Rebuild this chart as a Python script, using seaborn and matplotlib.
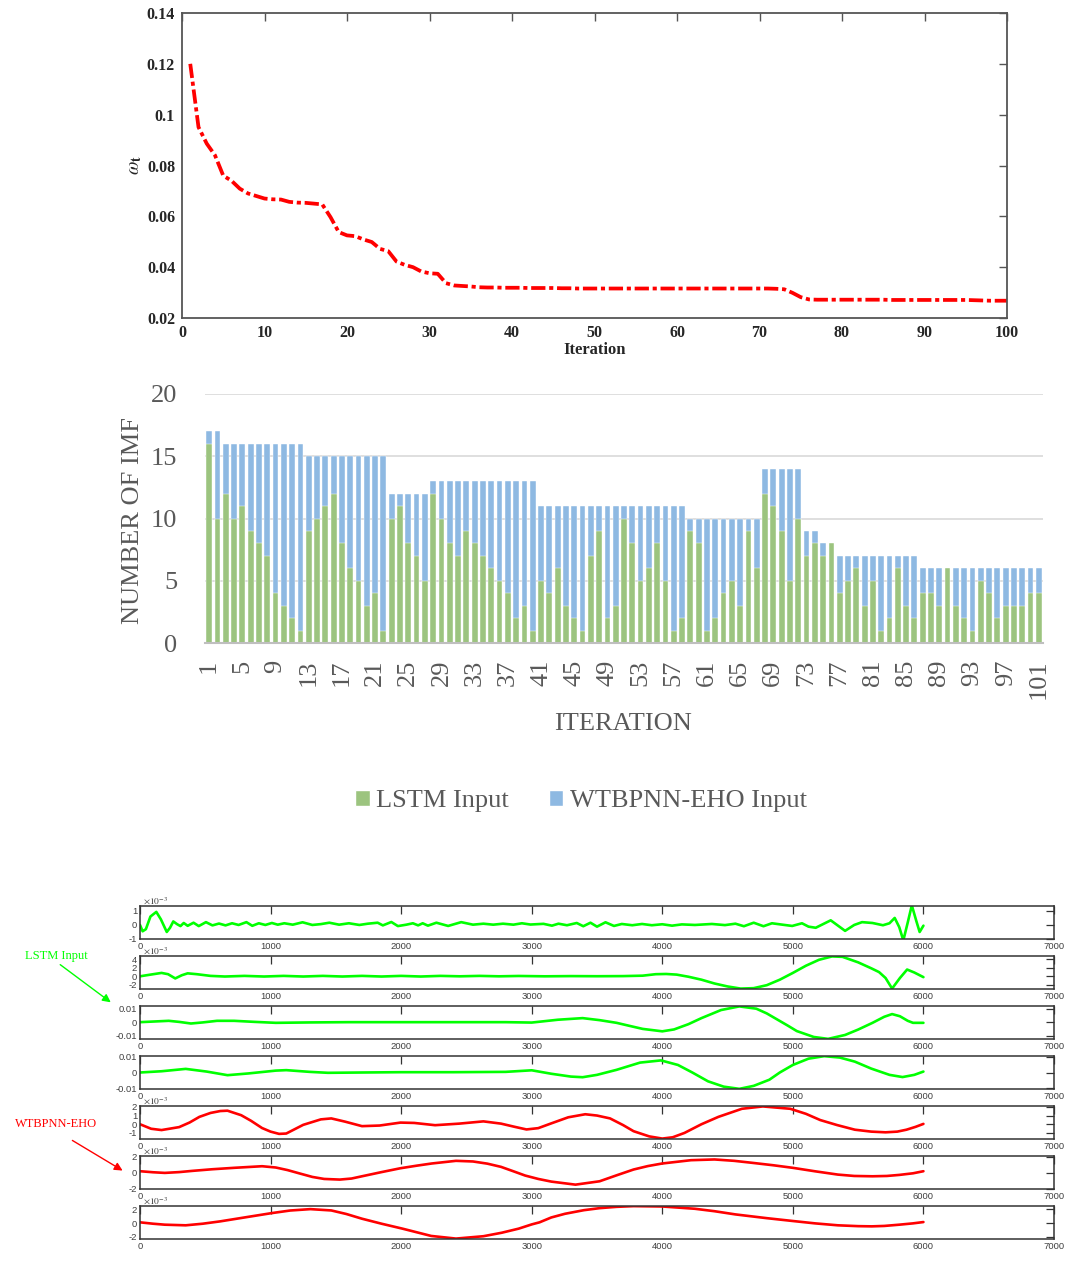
import numpy as np
import pandas as pd
import matplotlib
matplotlib.use("Agg")
import matplotlib.pyplot as plt
from matplotlib.ticker import FuncFormatter, MultipleLocator, FixedLocator
from matplotlib.patches import Patch
import seaborn as sns

# ---------------- data ----------------
# convergence of omega_t over the optimisation iterations
iterations = list(range(1, 101))
omega = [0.1200, 0.0951, 0.0886, 0.0840, 0.0760, 0.0740, 0.0709, 0.0690, 0.0680, 0.0670,
         0.0667, 0.0666, 0.0657, 0.0654, 0.0653, 0.0650, 0.0647, 0.0597, 0.0538, 0.0525,
         0.0522, 0.0509, 0.0499, 0.0472, 0.0463, 0.0422, 0.0409, 0.0400, 0.0383, 0.0376,
         0.0374, 0.0337, 0.0328, 0.0326, 0.0324, 0.0321, 0.0320, 0.0320, 0.0319, 0.0319,
         0.0319, 0.0318, 0.0318, 0.0318, 0.0318, 0.0317, 0.0317, 0.0316, 0.0316, 0.0316,
         0.0316, 0.0316, 0.0316, 0.0316, 0.0316, 0.0316, 0.0316, 0.0316, 0.0316, 0.0316,
         0.0316, 0.0316, 0.0316, 0.0316, 0.0316, 0.0316, 0.0316, 0.0316, 0.0316, 0.0316,
         0.0316, 0.0315, 0.0313, 0.0299, 0.0282, 0.0273, 0.0272, 0.0272, 0.0272, 0.0272,
         0.0272, 0.0272, 0.0272, 0.0272, 0.0272, 0.0271, 0.0271, 0.0271, 0.0271, 0.0271,
         0.0271, 0.0271, 0.0271, 0.0271, 0.0271, 0.0270, 0.0269, 0.0268, 0.0268, 0.0268]

# number of IMFs routed to each model per iteration
imf_iteration = list(range(1, 102))
lstm_input = [16, 10, 12, 10, 11, 9, 8, 7, 4, 3, 2, 1,
              9, 10, 11, 12, 8, 6, 5, 3, 4, 1,
              10, 11, 8, 7, 5,
              12, 10, 8, 7, 9, 8, 7, 6, 5, 4, 2, 3, 1,
              5, 4, 6, 3, 2, 1, 7, 9, 2, 3, 10, 8, 5, 6, 8, 5, 1, 2,
              9, 8, 1, 2, 4, 5, 3, 9, 6,
              12, 11, 9, 5, 10,
              7, 8, 7, 8,
              4, 5, 6, 3, 5, 1, 2, 6, 3, 2,
              4, 4, 3, 6, 3, 2, 1, 5, 4, 2, 3, 3, 3, 4, 4]
wtbpnn_input = [1, 7, 4, 6, 5, 7, 8, 9, 12, 13, 14, 15,
                6, 5, 4, 3, 7, 9, 10, 12, 11, 14,
                2, 1, 4, 5, 7,
                1, 3, 5, 6, 4, 5, 6, 7, 8, 9, 11, 10, 12,
                6, 7, 5, 8, 9, 10, 4, 2, 9, 8, 1, 3, 6, 5, 3, 6, 10, 9,
                1, 2, 9, 8, 6, 5, 7, 1, 4,
                2, 3, 5, 9, 4,
                2, 1, 1, 0,
                3, 2, 1, 4, 2, 6, 5, 1, 4, 5,
                2, 2, 3, 0, 3, 4, 5, 1, 2, 4, 3, 3, 3, 2, 2]

# decomposed IMF components (time index, amplitude)
imf1_t = [0, 20, 45, 80, 125, 160, 205, 230, 255, 285, 310, 335, 365, 410, 450, 505, 555, 605,
          655, 705, 755, 815, 860, 910, 960, 1010, 1055, 1105, 1170, 1245, 1320, 1385, 1450,
          1525, 1600, 1680, 1745, 1820, 1860, 1925, 1975, 2040, 2090, 2130, 2165, 2205, 2270,
          2360, 2460, 2550, 2630, 2705, 2780, 2860, 2925, 2990, 3090, 3155, 3205, 3270, 3345,
          3395, 3450, 3500, 3565, 3630, 3690, 3770, 3845, 3920, 4000, 4075, 4150, 4250, 4380,
          4480, 4560, 4625, 4700, 4775, 4840, 4920, 4995, 5070, 5120, 5175, 5290, 5400, 5470,
          5530, 5610, 5690, 5740, 5780, 5815, 5846, 5880, 5911, 5945, 5971, 6000]
imf1_v = [0.0, -0.45, -0.3, 0.6, 0.93, 0.4, -0.5, -0.2, 0.25, 0.05, -0.08, 0.14, -0.06, 0.16,
          -0.08, 0.2, -0.03, 0.1, -0.03, 0.12, 0.0, 0.2, -0.06, 0.12, 0.0, 0.14, 0.02, 0.12,
          0.02, 0.19, 0.0, 0.06, 0.16, 0.02, 0.12, 0.0, 0.09, 0.16, -0.03, 0.21, -0.08, 0.02,
          0.12, -0.03, 0.12, -0.05, 0.16, -0.07, 0.2, 0.02, 0.09, 0.02, 0.09, 0.02, 0.12, 0.03,
          0.08, -0.05, 0.09, -0.02, 0.14, -0.09, 0.16, -0.12, 0.19, -0.07, 0.07, -0.02, 0.07,
          -0.02, 0.05, -0.05, 0.04, 0.0, 0.07, -0.01, 0.09, -0.09, 0.16, -0.09, 0.12, 0.02,
          -0.07, 0.12, -0.12, -0.2, 0.33, -0.42, 0.0, 0.2, 0.14, -0.02, 0.12, 0.5, -0.16, -1.1,
          0.18, 1.4, 0.3, -0.5, -0.05]

imf2_t = [0, 60, 165, 215, 270, 320, 365, 435, 540, 650, 800, 950, 1100, 1250, 1400, 1550,
          1700, 1850, 2000, 2150, 2300, 2450, 2600, 2750, 2900, 3100, 3300, 3500, 3700, 3850,
          3950, 4030, 4110, 4200, 4300, 4400, 4500, 4600, 4700, 4800, 4900, 5000, 5100, 5200,
          5300, 5380, 5500, 5600, 5660, 5710, 5760, 5820, 5875, 5930, 6000]
imf2_v = [0.0, 0.3, 0.8, 0.5, -0.5, 0.25, 0.7, 0.5, 0.1, -0.05, 0.1, -0.05, 0.1, -0.05, 0.1,
          -0.05, 0.1, -0.05, 0.1, -0.05, 0.1, 0.0, 0.1, 0.0, 0.08, 0.0, 0.05, 0.02, 0.05, 0.15,
          0.5, 0.55, 0.4, -0.1, -0.8, -1.7, -2.4, -2.9, -2.8, -2.1, -0.8, 0.8, 2.5, 3.9, 4.7,
          4.6, 3.3, 1.9, 1.0, -0.4, -2.9, -0.4, 1.6, 0.9, -0.2]

imf3_t = [0, 110, 220, 300, 390, 480, 590, 720, 880, 1040, 1300, 1600, 2000, 2400, 2800,
          3000, 3200, 3390, 3520, 3650, 3760, 3850, 4000, 4090, 4200, 4300, 4450, 4590, 4720,
          4800, 4880, 4960, 5030, 5160, 5270, 5400, 5500, 5610, 5700, 5760, 5820, 5880, 5920,
          6000]
imf3_v = [0.0, 0.0005, 0.001, 0.0002, -0.001, -0.0002, 0.001, 0.001, 0.0002, -0.0005, -0.0002,
          0.0, 0.0, 0.0, 0.0, -0.0003, 0.0018, 0.003, 0.0015, -0.0005, -0.003, -0.005, -0.0068,
          -0.0054, -0.0015, 0.003, 0.009, 0.0117, 0.010, 0.0065, 0.002, -0.0025, -0.0066,
          -0.011, -0.0124, -0.0095, -0.0055, -0.0005, 0.004, 0.006, 0.0044, 0.001, -0.0005,
          -0.0005]

imf4_t = [0, 165, 350, 510, 670, 830, 1040, 1120, 1300, 1440, 1700, 2000, 2400, 2800, 3000,
          3150, 3300, 3390, 3500, 3650, 3830, 3990, 4120, 4230, 4350, 4470, 4590, 4700, 4820,
          4900, 5000, 5120, 5240, 5360, 5475, 5600, 5740, 5840, 5930, 6000]
imf4_v = [0.0, 0.0008, 0.0023, 0.0006, -0.0017, -0.0006, 0.0012, 0.0015, 0.0004, -0.0002, 0.0,
          0.0002, 0.0002, 0.0004, 0.0014, -0.0008, -0.0026, -0.003, -0.0015, 0.0017, 0.0063,
          0.0077, 0.0048, 0.0, -0.0056, -0.009, -0.0104, -0.0085, -0.0046, 0.0, 0.0048, 0.0088,
          0.0104, 0.0095, 0.0069, 0.0025, -0.0015, -0.0029, -0.0015, 0.0006]

imf5_t = [0, 85, 165, 300, 380, 455, 540, 615, 670, 775, 850, 935, 1000, 1065, 1120, 1250,
          1385, 1465, 1570, 1700, 1835, 1995, 2100, 2260, 2445, 2630, 2765, 2870, 2960, 3050,
          3150, 3280, 3410, 3500, 3600, 3700, 3780, 3900, 4000, 4080, 4170, 4300, 4430, 4610,
          4770, 4980, 5100, 5210, 5340, 5475, 5600, 5710, 5800, 5870, 5940, 6000]
imf5_v = [0.0, -0.52, -0.67, -0.33, 0.2, 0.85, 1.3, 1.52, 1.56, 1.04, 0.4, -0.44, -0.85, -1.11,
          -1.07, -0.07, 0.56, 0.67, 0.3, -0.22, -0.15, 0.19, 0.15, -0.11, 0.07, 0.33, 0.07,
          -0.3, -0.6, -0.45, 0.1, 0.8, 1.15, 1.0, 0.67, -0.1, -0.8, -1.4, -1.65, -1.5, -1.0,
          0.0, 0.85, 1.78, 2.05, 1.78, 1.2, 0.48, -0.1, -0.63, -0.85, -0.93, -0.85, -0.63,
          -0.3, 0.04]

imf6_t = [0, 100, 190, 300, 400, 550, 720, 935, 1040, 1130, 1225, 1320, 1410, 1530, 1620,
          1700, 1850, 1995, 2120, 2235, 2420, 2550, 2660, 2765, 2860, 2950, 3050, 3150, 3335,
          3520, 3650, 3780, 3890, 4000, 4220, 4400, 4550, 4690, 4850, 5000, 5170, 5345, 5470,
          5610, 5720, 5815, 5920, 6000]
imf6_v = [0.21, 0.08, 0.0, 0.1, 0.25, 0.45, 0.63, 0.83, 0.67, 0.35, -0.08, -0.5, -0.75, -0.83,
          -0.7, -0.42, 0.1, 0.58, 0.9, 1.17, 1.5, 1.42, 1.15, 0.75, 0.2, -0.33, -0.75, -1.08,
          -1.46, -1.04, -0.3, 0.42, 0.85, 1.17, 1.58, 1.67, 1.5, 1.25, 0.95, 0.63, 0.2, -0.21,
          -0.38, -0.42, -0.38, -0.25, -0.05, 0.21]

imf7_t = [0, 100, 190, 350, 480, 615, 800, 1010, 1150, 1305, 1465, 1580, 1700, 1850, 2010,
          2230, 2420, 2630, 2770, 2900, 3000, 3060, 3150, 3255, 3400, 3520, 3650, 3780, 4000,
          4250, 4400, 4560, 4800, 5000, 5170, 5345, 5500, 5605, 5700, 5815, 5920, 6000]
imf7_v = [0.1, -0.1, -0.24, -0.33, -0.1, 0.24, 0.8, 1.43, 1.8, 2.0, 1.81, 1.3, 0.62, -0.1,
          -0.81, -1.86, -2.24, -1.9, -1.4, -0.81, -0.2, 0.1, 0.8, 1.33, 1.85, 2.14, 2.33, 2.43,
          2.38, 2.05, 1.7, 1.24, 0.7, 0.29, -0.05, -0.33, -0.45, -0.48, -0.42, -0.24, -0.05,
          0.14]

# ---------------- style ----------------
sns.set_theme(style="white")
plt.rcParams["font.family"] = ["Liberation Serif", "DejaVu Serif"]
plt.rcParams["axes.unicode_minus"] = False
plt.rcParams["mathtext.fontset"] = "stix"

W, H = 1067, 1276
fig = plt.figure(figsize=(W / 100, H / 100), dpi=100)
fig.patch.set_facecolor("white")


def rect(left, top, right, bottom):
    """pixel box (from top-left) -> figure-fraction rectangle"""
    return [left / W, 1 - bottom / H, (right - left) / W, (bottom - top) / H]


def g_fmt(v, _):
    return f"{v:g}"


def milli_fmt(v, _):
    return f"{round(v / 1e-3, 6):g}"


# ---------------- omega_t convergence ----------------
ax1 = fig.add_axes(rect(182, 13, 1007, 318))
df_w = pd.DataFrame({"Iteration": iterations, "omega": omega})
sns.lineplot(data=df_w, x="Iteration", y="omega", ax=ax1, color="#FF0000",
             linewidth=2.7, linestyle=(0, (3.8, 1.0, 1.1, 1.0)))
ax1.set_xlim(0, 100)
ax1.set_ylim(0.02, 0.14)
ax1.xaxis.set_major_locator(MultipleLocator(10))
ax1.yaxis.set_major_locator(MultipleLocator(0.02))
ax1.yaxis.set_major_formatter(FuncFormatter(g_fmt))
ax1.tick_params(direction="in", top=True, right=True, length=6, width=1,
                color="#555555", labelcolor="#262626", labelsize=11.5, pad=5)
for lab in ax1.get_xticklabels() + ax1.get_yticklabels():
    lab.set_fontweight("bold")
for sp in ax1.spines.values():
    sp.set_color("#555555")
    sp.set_linewidth(1.3)
ax1.set_xlabel("Iteration", fontsize=12, fontweight="bold", color="#262626", labelpad=1)
ax1.set_ylabel(r"$\omega_{\mathbf{t}}$", fontsize=14, color="#262626", labelpad=2)

# ---------------- stacked IMF counts ----------------
GREEN = "#9CC47F"
BLUE = "#8EB9E2"
GREY = "#595959"
FS = 19
ax2 = fig.add_axes(rect(205, 394, 1043, 643))
df_b = pd.DataFrame({"iteration": imf_iteration, "lstm": lstm_input, "wtbpnn": wtbpnn_input})
df_b["total"] = df_b["lstm"] + df_b["wtbpnn"]
sns.barplot(data=df_b, x="iteration", y="total", color=BLUE, saturation=1, width=0.7,
            edgecolor="white", linewidth=0.3, ax=ax2)
sns.barplot(data=df_b, x="iteration", y="lstm", color=GREEN, saturation=1, width=0.7,
            edgecolor="white", linewidth=0.3, ax=ax2)
ax2.set_xlim(-0.5, len(imf_iteration) - 0.5)
ax2.set_ylim(0, 20)
ax2.yaxis.set_major_locator(MultipleLocator(5))
tick_pos = list(range(0, len(imf_iteration), 4))
ax2.xaxis.set_major_locator(FixedLocator(tick_pos))
ax2.set_xticklabels([str(imf_iteration[i]) for i in tick_pos], rotation=90)
ax2.set_axisbelow(True)
ax2.yaxis.grid(True, color="#D9D9D9", linewidth=1.2)
ax2.xaxis.grid(False)
for side in ("left", "right", "top"):
    ax2.spines[side].set_visible(False)
ax2.spines["bottom"].set_color("#BFBFBF")
ax2.spines["bottom"].set_linewidth(1.5)
ax2.tick_params(axis="both", length=0, labelsize=FS, labelcolor=GREY)
ax2.tick_params(axis="x", pad=12)
ax2.tick_params(axis="y", pad=20)
ax2.set_xlabel("ITERATION", fontsize=FS, color=GREY, va="center")
ax2.set_ylabel("NUMBER OF IMF", fontsize=FS, color=GREY, va="center")
ax2.xaxis.set_label_coords((623 - 205) / 838, (643 - 724) / 249)
ax2.yaxis.set_label_coords((133 - 205) / 838, (643 - 521) / 249)

fig.legend(handles=[Patch(facecolor=GREEN, label="LSTM Input"),
                    Patch(facecolor=BLUE, label="WTBPNN-EHO Input")],
           loc="center", bbox_to_anchor=(581 / W, 1 - 801 / H), ncol=2, frameon=False,
           fontsize=FS, labelcolor=GREY, handlelength=0.55, handleheight=0.55,
           handletextpad=0.25, columnspacing=1.5)

# ---------------- IMF component panels ----------------
LIME = "#00FF00"
RED = "#FF0000"
panels = [
    (imf1_t, imf1_v, 1e-3, LIME, (-1.0, 1.35), [-1, 0, 1]),
    (imf2_t, imf2_v, 1e-3, LIME, (-3.0, 4.8), [-2, 0, 2, 4]),
    (imf3_t, imf3_v, 1.0, LIME, (-0.0125, 0.012), [-0.01, 0, 0.01]),
    (imf4_t, imf4_v, 1.0, LIME, (-0.0105, 0.0105), [-0.01, 0, 0.01]),
    (imf5_t, imf5_v, 1e-3, RED, (-1.7, 2.1), [-1, 0, 1, 2]),
    (imf6_t, imf6_v, 1e-3, RED, (-2.0, 2.1), [-2, 0, 2]),
    (imf7_t, imf7_v, 1e-3, RED, (-2.3, 2.45), [-2, 0, 2]),
]
panel_tops = [906, 956, 1006, 1056, 1106, 1156, 1206]
SANS = ["Liberation Sans", "DejaVu Sans"]
imf_axes = []
for (ts, vs, scale, col, ylim, yt), top in zip(panels, panel_tops):
    ax = fig.add_axes(rect(140, top, 1054, top + 33))
    df_p = pd.DataFrame({"t": ts, "v": np.asarray(vs) * scale})
    sns.lineplot(data=df_p, x="t", y="v", ax=ax, color=col, linewidth=1.9)
    ax.set_xlim(0, 7000)
    ax.set_ylim(ylim[0] * scale, ylim[1] * scale)
    ax.xaxis.set_major_locator(MultipleLocator(1000))
    ax.yaxis.set_major_locator(FixedLocator([v * scale for v in yt]))
    if scale != 1.0:
        ax.yaxis.set_major_formatter(FuncFormatter(milli_fmt))
        ax.text(0.003, 1.0, r"$\times10^{-3}$", transform=ax.transAxes, ha="left",
                va="bottom", fontsize=6.8, color="#404040", family=SANS)
    else:
        ax.yaxis.set_major_formatter(FuncFormatter(g_fmt))
    ax.tick_params(direction="in", top=True, right=True, length=6, width=0.9,
                   color="#333333", labelcolor="#404040", labelsize=6.8, pad=2)
    for lab in ax.get_xticklabels() + ax.get_yticklabels():
        lab.set_family(SANS)
    for sp in ax.spines.values():
        sp.set_color("#333333")
        sp.set_linewidth(1.1)
    ax.set_xlabel("")
    ax.set_ylabel("")
    imf_axes.append(ax)

# labels pointing at the component groups
fig.text(25 / W, 1 - 956 / H, "LSTM Input", color=LIME, fontsize=9, ha="left", va="center")
imf_axes[2].annotate("", xy=(113 / W, 1 - 1004 / H), xytext=(58 / W, 1 - 963 / H),
                     xycoords="figure fraction", textcoords="figure fraction",
                     arrowprops=dict(arrowstyle="-|>", color=LIME, lw=1.0, mutation_scale=12),
                     annotation_clip=False)
fig.text(15 / W, 1 - 1124 / H, "WTBPNN-EHO", color=RED, fontsize=9, ha="left", va="center")
imf_axes[5].annotate("", xy=(125 / W, 1 - 1172 / H), xytext=(70 / W, 1 - 1139 / H),
                     xycoords="figure fraction", textcoords="figure fraction",
                     arrowprops=dict(arrowstyle="-|>", color=RED, lw=1.0, mutation_scale=12),
                     annotation_clip=False)

fig.savefig("out.png", dpi=100, facecolor="white")
